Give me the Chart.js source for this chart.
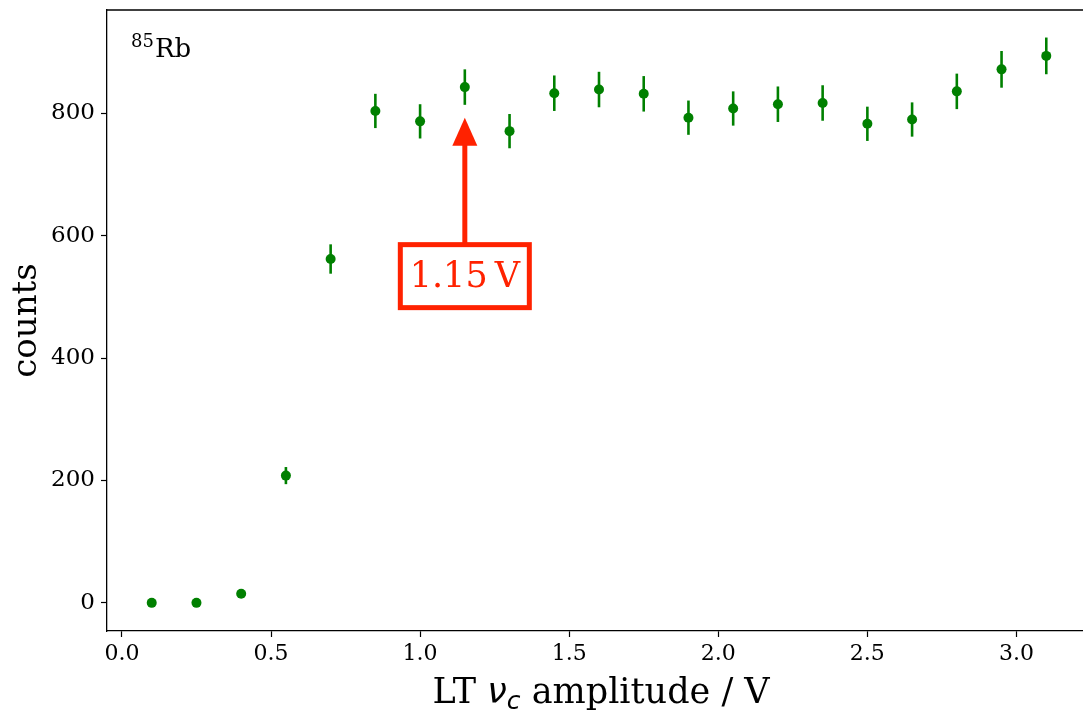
<!DOCTYPE html>
<html>
<head>
<meta charset="utf-8">
<script src="https://cdn.jsdelivr.net/npm/chart.js@4/dist/chart.umd.min.js"></script>
<style>
  html, body { margin: 0; padding: 0; background: #fff; overflow: hidden; width: 1083px; height: 718px; }
  canvas { display: block; }
</style>
</head>
<body>
<canvas id="c" width="1096" height="718"></canvas>
<script>
// ---- data ----
const amplitudes = [0.10, 0.25, 0.40, 0.55, 0.70, 0.85, 1.00, 1.15, 1.30, 1.45, 1.60, 1.75, 1.90, 2.05, 2.20, 2.35, 2.50, 2.65, 2.80, 2.95, 3.10];
const counts     = [0, 0, 15, 208, 562, 804, 787, 843, 771, 833, 839, 832, 793, 808, 815, 817, 783, 790, 836, 872, 894];
const countErrs  = [0, 0, 4, 14, 24, 28, 28, 29, 28, 29, 29, 29, 28, 28, 29, 29, 28, 28, 29, 30, 30];
const xTicks = [0.0, 0.5, 1.0, 1.5, 2.0, 2.5, 3.0];
const yTicks = [0, 200, 400, 600, 800];
const annotationX = 1.15;
const annotationLabel = '1.15\u2009V';
const annotationTextY = 534;
const annotationArrowTip = 793;
const isotopeMass = '85';
const isotopeName = 'Rb';

const FONT = '"DejaVu Serif", serif';
const GREEN = '#008000';
const RED = '#ff2200';

const points = amplitudes.map((x, i) => ({ x: x, y: counts[i] }));

const extras = {
  id: 'extras',
  beforeDatasetsDraw(chart) {
    const ctx = chart.ctx, xs = chart.scales.x, ys = chart.scales.y;
    ctx.save();
    ctx.strokeStyle = GREEN;
    ctx.lineWidth = 2.6;
    amplitudes.forEach((x, i) => {
      if (!countErrs[i]) return;
      const px = xs.getPixelForValue(x);
      ctx.beginPath();
      ctx.moveTo(px, ys.getPixelForValue(counts[i] - countErrs[i]));
      ctx.lineTo(px, ys.getPixelForValue(counts[i] + countErrs[i]));
      ctx.stroke();
    });
    ctx.restore();
  },
  afterDraw(chart) {
    const ctx = chart.ctx, xs = chart.scales.x, ys = chart.scales.y, a = chart.chartArea;
    ctx.save();
    // top spine
    ctx.strokeStyle = '#000';
    ctx.lineWidth = 1.3;
    ctx.beginPath();
    ctx.moveTo(a.left - 0.65, a.top);
    ctx.lineTo(a.right + 2, a.top);
    ctx.stroke();

    // isotope label
    ctx.fillStyle = '#000';
    ctx.textBaseline = 'alphabetic';
    ctx.textAlign = 'left';
    ctx.font = '18px ' + FONT;
    ctx.fillText(isotopeMass, 131, 47);
    const w = ctx.measureText(isotopeMass).width;
    ctx.font = '26px ' + FONT;
    ctx.fillText(isotopeName, 131 + w + 1, 57);

    // annotation
    const cx = xs.getPixelForValue(annotationX);
    const cy = ys.getPixelForValue(annotationTextY);
    const tip = ys.getPixelForValue(annotationArrowTip);
    ctx.font = '35px ' + FONT;
    ctx.textAlign = 'center';
    ctx.textBaseline = 'middle';
    const bw = 129, bh = 63;
    const boxTop = cy - bh / 2;
    // shaft
    ctx.strokeStyle = RED;
    ctx.fillStyle = RED;
    ctx.lineWidth = 5;
    ctx.beginPath();
    ctx.moveTo(cx, boxTop);
    ctx.lineTo(cx, tip + 27);
    ctx.stroke();
    // head
    ctx.beginPath();
    ctx.moveTo(cx, tip);
    ctx.lineTo(cx - 12.5, tip + 28);
    ctx.lineTo(cx + 12.5, tip + 28);
    ctx.closePath();
    ctx.fill();
    // box
    ctx.fillStyle = '#fff';
    ctx.fillRect(cx - bw / 2, boxTop, bw, bh);
    ctx.lineWidth = 5;
    ctx.strokeRect(cx - bw / 2, boxTop, bw, bh);
    ctx.fillStyle = RED;
    ctx.fillText(annotationLabel, cx, cy + 2);

    // y axis title
    ctx.fillStyle = '#000';
    ctx.save();
    ctx.translate(36, (a.top + a.bottom) / 2);
    ctx.rotate(-Math.PI / 2);
    ctx.font = '34px ' + FONT;
    ctx.textAlign = 'center';
    ctx.textBaseline = 'alphabetic';
    ctx.fillText('counts', 0, 0);
    ctx.restore();

    // x axis title: LT ν_c amplitude / V
    const xc = 601;
    const base = 703;
    const parts = [
      { t: 'LT ', f: '35px ' + FONT, dy: 0 },
      { t: '\u03bd', f: 'italic 35px "DejaVu Sans", sans-serif', dy: 0 },
      { t: 'c', f: 'italic 25px "DejaVu Sans", sans-serif', dy: 6 },
      { t: ' amplitude / V', f: '35px ' + FONT, dy: 0 }
    ];
    let total = 0;
    parts.forEach(p => { ctx.font = p.f; p.w = ctx.measureText(p.t).width; total += p.w; });
    let x0 = xc - total / 2;
    ctx.textAlign = 'left';
    ctx.textBaseline = 'alphabetic';
    parts.forEach(p => { ctx.font = p.f; ctx.fillText(p.t, x0, base + p.dy); x0 += p.w; });
    ctx.restore();
  }
};

new Chart(document.getElementById('c'), {
  type: 'scatter',
  data: {
    datasets: [{
      data: points,
      backgroundColor: GREEN,
      borderColor: GREEN,
      pointRadius: 5,
      pointHoverRadius: 5,
      borderWidth: 0
    }]
  },
  options: {
    responsive: false,
    animation: false,
    events: [],
    layout: { padding: { top: 10, right: 0, left: 1, bottom: 0 } },
    plugins: { legend: { display: false }, tooltip: { enabled: false } },
    scales: {
      x: {
        type: 'linear',
        min: -0.05,
        max: 3.25,
        afterBuildTicks: s => { s.ticks = xTicks.map(v => ({ value: v })); },
        afterFit: s => { s.height = 87; s.paddingLeft = 0; s.paddingRight = 0; },
        grid: { drawOnChartArea: false, tickLength: 6, color: '#000', tickWidth: 1.2 },
        border: { color: '#000', width: 1.3 },
        ticks: { color: '#000', font: { family: FONT, size: 22 }, padding: 4, maxRotation: 0, callback: v => Number(v).toFixed(1) }
      },
      y: {
        type: 'linear',
        min: -46,
        max: 969,
        afterBuildTicks: s => { s.ticks = yTicks.map(v => ({ value: v })); },
        afterFit: s => { s.width = 106; s.paddingTop = 0; s.paddingBottom = 0; },
        grid: { drawOnChartArea: false, tickLength: 6, color: '#000', tickWidth: 1.2 },
        border: { color: '#000', width: 1.3 },
        ticks: { color: '#000', font: { family: FONT, size: 23 }, padding: 6, callback: v => String(v) }
      }
    }
  },
  plugins: [extras]
});
</script>
</body>
</html>
